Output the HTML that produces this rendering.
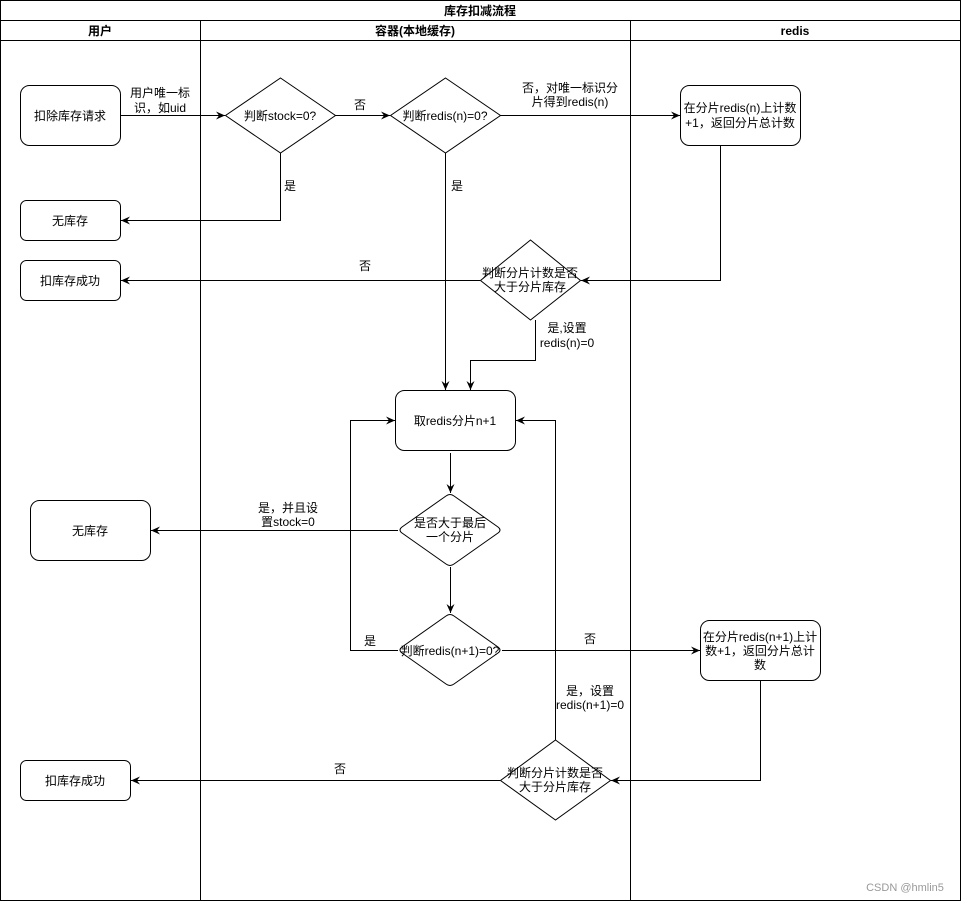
<!DOCTYPE html>
<html><head><meta charset="utf-8"><style>
html,body{margin:0;padding:0;background:#fff}
svg text{font-family:"Liberation Sans","Noto Sans CJK SC",sans-serif;font-size:12px;fill:#000}
</style></head><body>
<svg width="961" height="901" viewBox="0 0 961 901" xmlns="http://www.w3.org/2000/svg">
<defs><marker id="a" markerWidth="10" markerHeight="10" refX="9" refY="5" orient="auto" markerUnits="userSpaceOnUse"><path d="M0,1 L9,5 L0,9 L3,5 Z" fill="#000"/></marker></defs>
<g fill="none" stroke="#000" stroke-width="1">
<rect x="0.5" y="0.5" width="960" height="900"/>
<line x1="0" y1="20.5" x2="961" y2="20.5"/>
<line x1="0" y1="40.5" x2="961" y2="40.5"/>
<line x1="200.5" y1="20" x2="200.5" y2="901"/>
<line x1="630.5" y1="20" x2="630.5" y2="901"/>
<rect x="20.5" y="85.5" width="100" height="60" rx="9"/>
<rect x="20.5" y="200.5" width="100" height="40" rx="6"/>
<rect x="20.5" y="260.5" width="100" height="40" rx="6"/>
<rect x="680.5" y="85.5" width="120" height="60" rx="9"/>
<rect x="395.5" y="390.5" width="120" height="60" rx="9"/>
<rect x="30.5" y="500.5" width="120" height="60" rx="9"/>
<rect x="700.5" y="620.5" width="120" height="60" rx="9"/>
<rect x="20.5" y="760.5" width="110" height="40" rx="6"/>
<path d="M280.5,78 L335.5,115.5 L280.5,153 L225.5,115.5 Z"/>
<path d="M445.5,78 L500.5,115.5 L445.5,153 L390.5,115.5 Z"/>
<path d="M530.5,240 L580.5,280.5 L530.5,320 L480.5,280.5 Z"/>
<path d="M446,496 Q450,493 454,496 L498,527 Q502,530 498,533 L454,564 Q450,567 446,564 L402,533 Q398,530 402,527 Z"/>
<path d="M446,616 Q450,613 454,616 L498,647 Q502,650 498,653 L454,684 Q450,687 446,684 L402,653 Q398,650 402,647 Z"/>
<path d="M555.5,740 L610.5,780.5 L555.5,820 L500.5,780.5 Z"/>
<g marker-end="url(#a)">
<path d="M120,115.5 H225"/>
<path d="M335,115.5 H390"/>
<path d="M500,115.5 H680"/>
<path d="M280.5,153 V220.5 H121"/>
<path d="M445.5,153 V390"/>
<path d="M720.5,145 V280.5 H581"/>
<path d="M480,280.5 H121"/>
<path d="M535.5,320 V360.5 H470.5 V390"/>
<path d="M450.5,453 V493"/>
<path d="M398,530.5 H151"/>
<path d="M450.5,567 V613"/>
<path d="M398,650.5 H350.5 V420.5 H395"/>
<path d="M502,650.5 H700"/>
<path d="M760.5,680 V780.5 H611"/>
<path d="M555.5,740 V420.5 H516"/>
<path d="M500,780.5 H131"/>
</g>
</g>
<g font-weight="bold" text-anchor="middle">
<text x="480" y="15" font-weight="bold">库存扣减流程</text>
<text x="100" y="35" font-weight="bold">用户</text>
<text x="415" y="35" font-weight="bold">容器(本地缓存)</text>
<text x="795" y="35" font-weight="bold">redis</text>
</g>
<g text-anchor="middle">
<text x="70" y="120">扣除库存请求</text>
<text x="70" y="225">无库存</text>
<text x="70" y="285">扣库存成功</text>
<text x="740" y="112">在分片redis(n)上计数</text>
<text x="740" y="127">+1，返回分片总计数</text>
<text x="280" y="120">判断stock=0?</text>
<text x="445" y="120">判断redis(n)=0?</text>
<text x="530" y="277">判断分片计数是否</text>
<text x="530" y="291">大于分片库存</text>
<text x="455" y="425">取redis分片n+1</text>
<text x="450" y="527">是否大于最后</text>
<text x="450" y="541">一个分片</text>
<text x="90" y="535">无库存</text>
<text x="450" y="655">判断redis(n+1)=0?</text>
<text x="760" y="641">在分片redis(n+1)上计</text>
<text x="760" y="655">数+1，返回分片总计</text>
<text x="760" y="669">数</text>
<text x="555" y="777">判断分片计数是否</text>
<text x="555" y="791">大于分片库存</text>
<text x="75" y="785">扣库存成功</text>
<text x="160" y="97">用户唯一标</text>
<text x="160" y="112">识，如uid</text>
<text x="360" y="109">否</text>
<text x="570" y="92">否，对唯一标识分</text>
<text x="570" y="106">片得到redis(n)</text>
<text x="290" y="190">是</text>
<text x="457" y="190">是</text>
<text x="365" y="270">否</text>
<text x="567" y="332">是,设置</text>
<text x="567" y="347">redis(n)=0</text>
<text x="288" y="512">是，并且设</text>
<text x="288" y="526">置stock=0</text>
<text x="370" y="645">是</text>
<text x="590" y="643">否</text>
<text x="590" y="695">是，设置</text>
<text x="590" y="709">redis(n+1)=0</text>
<text x="340" y="773">否</text>
</g>
<text x="905" y="891" text-anchor="middle" style="fill:#999;font-size:11px">CSDN @hmlin5</text>
</svg>
</body></html>
